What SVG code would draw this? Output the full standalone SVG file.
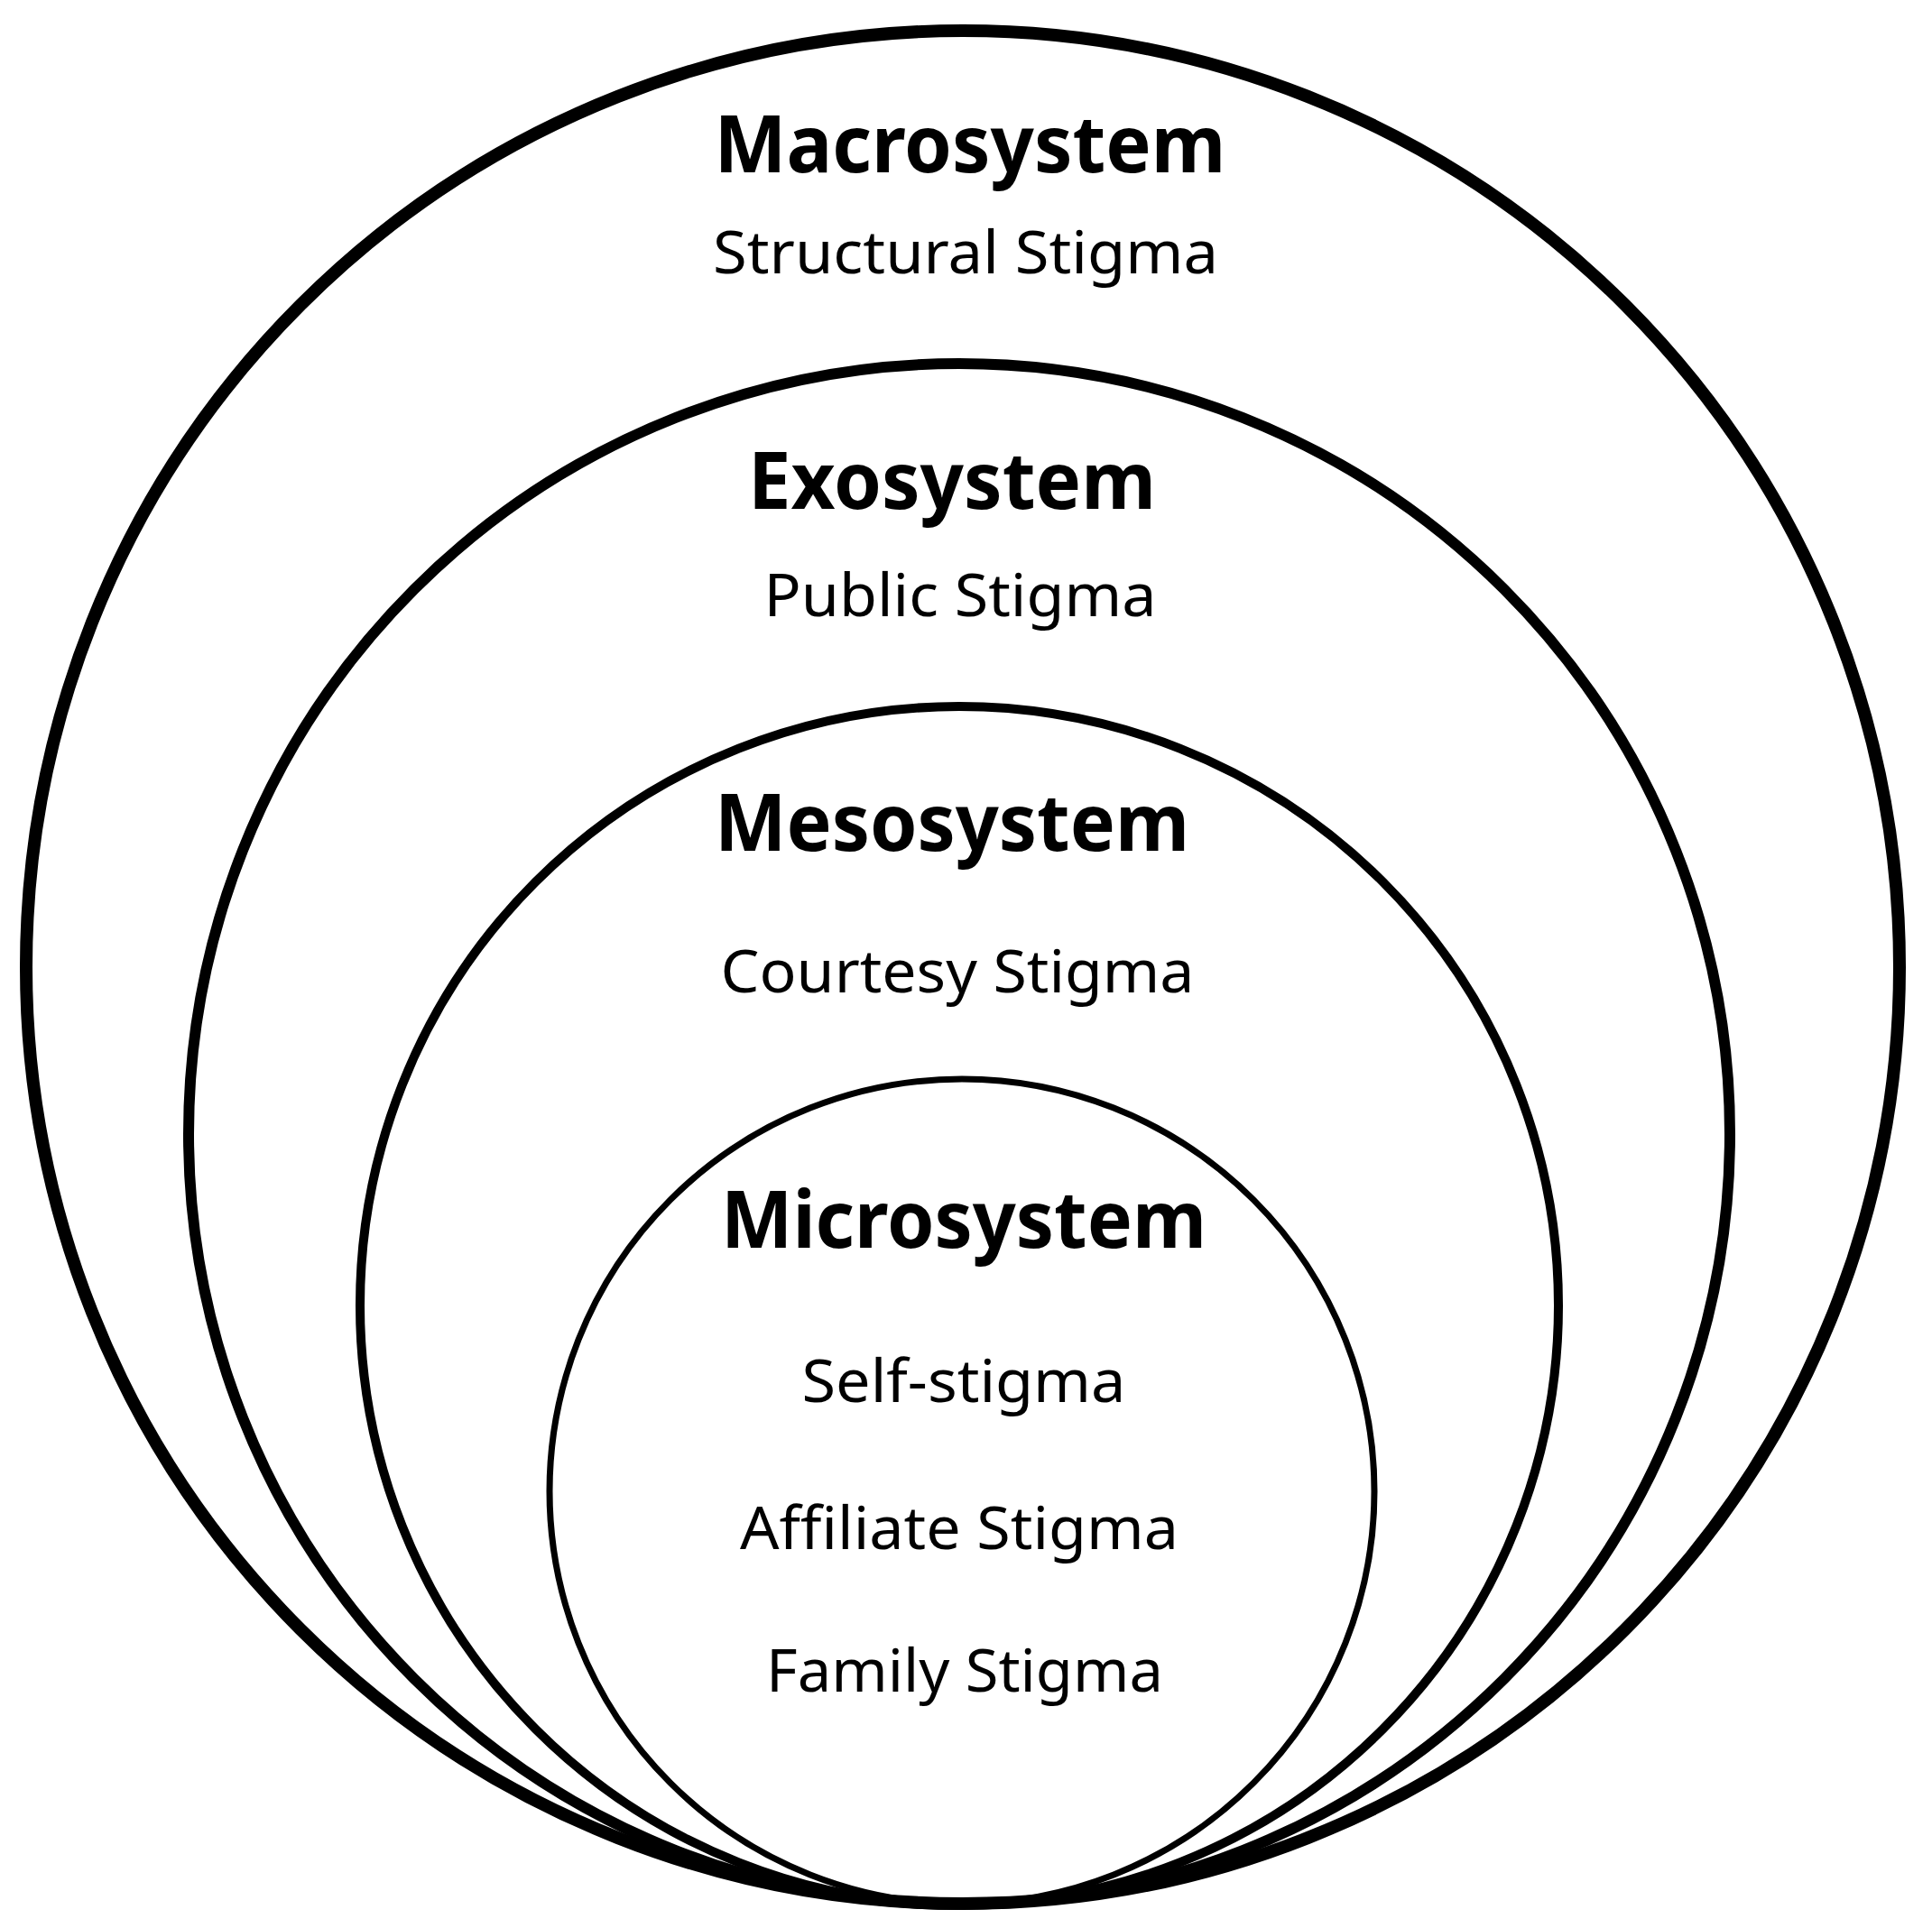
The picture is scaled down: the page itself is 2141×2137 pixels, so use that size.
<svg xmlns="http://www.w3.org/2000/svg" width="2141" height="2137" viewBox="0 0 2141 2137">
<style>
.ring{fill:none;stroke:#000}
.title{font-family:"Noto Sans","Liberation Sans",sans-serif;font-weight:700;font-size:87px;fill:#000;text-anchor:middle}
.label{font-family:"Noto Sans","Liberation Sans",sans-serif;font-weight:400;font-size:65px;fill:#000;text-anchor:middle}
</style>
<rect x="0" y="0" width="2141" height="2137" fill="#fff"/>
<g id="macrosystem">
<circle class="ring" cx="1067" cy="1072" r="1038" stroke-width="14"/>
<text class="title" x="1075" y="191" textLength="567" lengthAdjust="spacingAndGlyphs">Macrosystem</text>
<text class="label" x="1070" y="303" textLength="560" lengthAdjust="spacingAndGlyphs">Structural Stigma</text>
</g>
<g id="exosystem">
<circle class="ring" cx="1063" cy="1257" r="854" stroke-width="12"/>
<text class="title" x="1055" y="564" textLength="452" lengthAdjust="spacingAndGlyphs">Exosystem</text>
<text class="label" x="1064" y="683" textLength="435" lengthAdjust="spacingAndGlyphs">Public Stigma</text>
</g>
<g id="mesosystem">
<circle class="ring" cx="1063" cy="1447" r="664" stroke-width="10"/>
<text class="title" x="1055" y="943" textLength="526" lengthAdjust="spacingAndGlyphs">Mesosystem</text>
<text class="label" x="1061" y="1100" textLength="525" lengthAdjust="spacingAndGlyphs">Courtesy Stigma</text>
</g>
<g id="microsystem">
<circle class="ring" cx="1066" cy="1653" r="457" stroke-width="7"/>
<text class="title" x="1068" y="1383" textLength="538" lengthAdjust="spacingAndGlyphs">Microsystem</text>
<text class="label" x="1068" y="1554" textLength="359" lengthAdjust="spacingAndGlyphs">Self-stigma</text>
<text class="label" x="1063" y="1717" textLength="486" lengthAdjust="spacingAndGlyphs">Affiliate Stigma</text>
<text class="label" x="1069" y="1875" textLength="440" lengthAdjust="spacingAndGlyphs">Family Stigma</text>
</g>
<g id="connectors"></g>
</svg>
